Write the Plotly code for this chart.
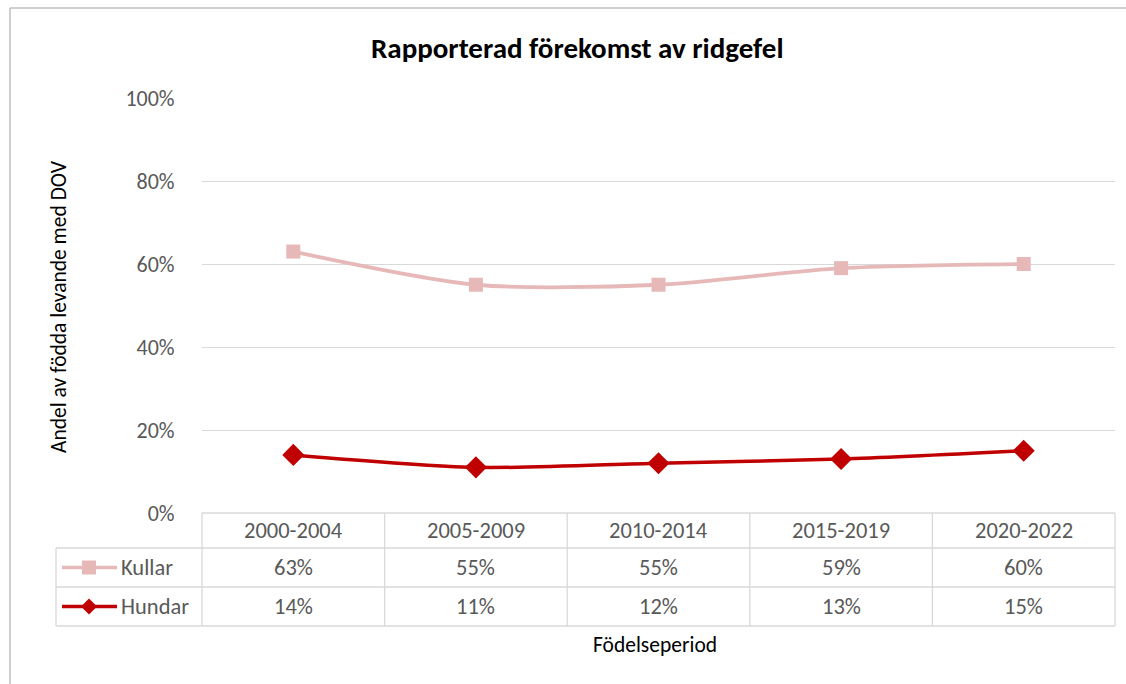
import plotly.graph_objects as go

# Data
periods = ["2000-2004", "2005-2009", "2010-2014", "2015-2019", "2020-2022"]
kullar = [63, 55, 55, 59, 60]
hundar = [14, 11, 12, 13, 15]
series_names = ["Kullar", "Hundar"]
y_ticks = [0, 20, 40, 60, 80, 100]

W, H = 1126, 684
ML, MR, MT, MB = 202, 11, 98, 171
PW, PH = W - ML - MR, H - MT - MB

FONT = "Carlito, Lato, 'Open Sans', sans-serif"
GRAY_TXT = "#595959"
GRID = "#D9D9D9"
C_KULL = "#E6B8B7"
C_HUND = "#C00000"
TXT = 22.5


def px_x(px):
    return (px - ML) / PW


def px_y(py):
    return (H - MB - py) / PH


fig = go.Figure()
xs = list(range(len(periods)))
fig.add_trace(go.Scatter(
    x=xs, y=kullar, mode="lines+markers", name=series_names[0],
    line=dict(color=C_KULL, width=3.8, shape="spline", smoothing=0.8),
    marker=dict(symbol="square", size=14, color=C_KULL),
))
fig.add_trace(go.Scatter(
    x=xs, y=hundar, mode="lines+markers", name=series_names[1],
    line=dict(color=C_HUND, width=3.5, shape="spline", smoothing=0.8),
    marker=dict(symbol="diamond", size=17, color=C_HUND),
))

shapes = []
ann = []

# data table grid
n = len(periods)
row_edges = [513, 548, 587, 626]
y_edges = [px_y(v) for v in row_edges]
line_style = dict(color=GRID, width=1.3)
shapes.append(dict(type="line", xref="paper", yref="paper", x0=0, x1=1,
                   y0=y_edges[0], y1=y_edges[0], line=line_style))
for ye in y_edges[1:]:
    shapes.append(dict(type="line", xref="paper", yref="paper", x0=px_x(56), x1=1,
                       y0=ye, y1=ye, line=line_style))
shapes.append(dict(type="line", xref="paper", yref="paper", x0=px_x(56), x1=px_x(56),
                   y0=y_edges[1], y1=y_edges[3], line=line_style))
for i in range(n + 1):
    xe = i / n
    shapes.append(dict(type="line", xref="paper", yref="paper", x0=xe, x1=xe,
                       y0=y_edges[0], y1=y_edges[3], line=line_style))

# header labels
for i, p in enumerate(periods):
    ann.append(dict(x=i, xref="x", y=(y_edges[0] + y_edges[1]) / 2, yref="paper",
                    text=p, showarrow=False, xanchor="center", yanchor="middle",
                    font=dict(family=FONT, size=TXT, color=GRAY_TXT)))

# value rows with legend keys
rows = [(series_names[0], kullar, C_KULL, "square"), (series_names[1], hundar, C_HUND, "diamond")]
for r, (name, vals, col, sym) in enumerate(rows):
    yc = (y_edges[r + 1] + y_edges[r + 2]) / 2
    for i, v in enumerate(vals):
        ann.append(dict(x=i, xref="x", y=yc, yref="paper", text=f"{v}%",
                        showarrow=False, xanchor="center", yanchor="middle",
                        font=dict(family=FONT, size=TXT, color=GRAY_TXT)))
    ann.append(dict(x=px_x(119), xref="paper", y=yc, yref="paper", text=name,
                    showarrow=False, xanchor="left", yanchor="middle",
                    font=dict(family=FONT, size=TXT, color=GRAY_TXT)))
    shapes.append(dict(type="line", xref="paper", yref="paper", x0=px_x(62), x1=px_x(117),
                       y0=yc, y1=yc, line=dict(color=col, width=3.5)))
    cx, cy = 89, H - MB - yc * PH
    if sym == "square":
        path = f"M{cx-7},{cy-7} L{cx+7},{cy-7} L{cx+7},{cy+7} L{cx-7},{cy+7} Z"
    else:
        path = f"M{cx},{cy-8} L{cx+8},{cy} L{cx},{cy+8} L{cx-8},{cy} Z"
    # convert pixel path to paper coordinates
    pts = []
    for tok in path.replace("M", "").replace("Z", "").split("L"):
        a, b = tok.strip().split(",")
        pts.append((px_x(float(a)), px_y(float(b))))
    ppath = "M" + " L".join(f"{a},{b}" for a, b in pts) + " Z"
    shapes.append(dict(type="path", xref="paper", yref="paper", path=ppath,
                       fillcolor=col, line=dict(color=col, width=0)))

# outer chart border
shapes.append(dict(type="line", xref="paper", yref="paper", x0=px_x(10), x1=px_x(1130),
                   y0=px_y(8), y1=px_y(8), line=dict(color="#BFBFBF", width=1.5)))
shapes.append(dict(type="line", xref="paper", yref="paper", x0=px_x(10), x1=px_x(10),
                   y0=px_y(8), y1=px_y(690), line=dict(color="#BFBFBF", width=1.5)))

# titles
ann.append(dict(x=px_x(577), xref="paper", y=px_y(48), yref="paper",
                text="<b>Rapporterad förekomst av ridgefel</b>", showarrow=False,
                xanchor="center", yanchor="middle",
                font=dict(family=FONT, size=29, color="#000000")))
ann.append(dict(x=px_x(59), xref="paper", y=px_y(307), yref="paper",
                text="Andel av födda levande med DOV", showarrow=False, textangle=-90,
                xanchor="center", yanchor="middle",
                font=dict(family=FONT, size=21.5, color="#000000")))
ann.append(dict(x=px_x(655), xref="paper", y=px_y(645), yref="paper",
                text="Födelseperiod", showarrow=False,
                xanchor="center", yanchor="middle",
                font=dict(family=FONT, size=21.5, color="#000000")))

fig.update_layout(
    width=W, height=H,
    margin=dict(l=ML, r=MR, t=MT, b=MB),
    paper_bgcolor="white", plot_bgcolor="white",
    showlegend=False,
    shapes=shapes, annotations=ann,
    xaxis=dict(range=[-0.5, n - 0.5], showgrid=False, zeroline=False,
               showticklabels=False, showline=False, fixedrange=True),
    yaxis=dict(range=[0, 100], tickvals=y_ticks, ticktext=[f"{t}%" for t in y_ticks],
               showgrid=True, gridcolor=GRID, gridwidth=1.2, zeroline=False,
               showline=False, ticks="outside", ticklen=22, tickcolor="rgba(0,0,0,0)",
               tickfont=dict(family=FONT, size=22, color=GRAY_TXT), fixedrange=True),
)

fig.write_html("out.html")
